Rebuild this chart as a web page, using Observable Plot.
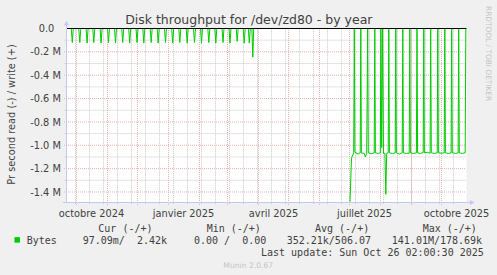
<!DOCTYPE html>
<html><head><meta charset="utf-8">
<script src="https://cdn.jsdelivr.net/npm/d3@7"></script>
<script src="https://cdn.jsdelivr.net/npm/@observablehq/plot@0.6"></script>
<style>html,body{margin:0;padding:0;background:#f0f0f0;} svg{display:block}</style>
</head><body><div id="chart"></div>
<script>
// ---------------- data ----------------
const startDate = "2024-09-21";
const endDate = "2025-10-26";
const title = "Disk throughput for /dev/zd80 - by year";
const yAxisLabel = "Pr second read (-) / write (+)";
const watermark = "RRDTOOL / TOBI OETIKER";
const xTickDates = ["2024-10-16", "2025-01-16", "2025-04-16", "2025-07-16", "2025-10-16"];
const xTickLabels = ["octobre 2024", "janvier 2025", "avril 2025", "juillet 2025", "octobre 2025"];
const yTickValues = [0, -0.2, -0.4, -0.6, -0.8, -1.0, -1.2, -1.4];
const yTickLabels = ["0.0", "-0.2 M", "-0.4 M", "-0.6 M", "-0.8 M", "-1.0 M", "-1.2 M", "-1.4 M"];
const yMinorValues = [-0.1, -0.3, -0.5, -0.7, -0.9, -1.1, -1.3];

// read throughput (M/s, negative = read), day offsets from startDate
const seg1Day = [0,
  4.8, 5.8, 6.8, 12.3, 13.3, 14.3, 19.6, 20.6, 21.6, 26.3, 27.3, 28.3,
  33.6, 34.6, 35.6, 41, 42, 43, 48, 49, 50, 55.2, 56.2, 57.2,
  62.2, 63.2, 64.2, 69.5, 70.5, 71.5, 76.3, 77.3, 78.3, 83.7, 84.7, 85.7,
  90.7, 91.7, 92.7, 98, 99, 100, 105.2, 106.2, 107.2, 112.3, 113.3, 114.3,
  119.7, 120.7, 121.7, 127, 128, 129, 134, 135, 136, 141.3, 142.3, 143.3,
  148.3, 149.3, 150.3, 155.5, 156.5, 157.5, 162.5, 163.5, 164.5, 169.7, 170.7, 171.7,
  176.7, 177.7, 178.7, 181.8, 182.8, 183.8, 185.4, 186.3, 187.2];
const seg1Read = [0,
  0, -0.12, 0, 0, -0.12, 0, 0, -0.125, 0, 0, -0.12, 0,
  0, -0.125, 0, 0, -0.12, 0, 0, -0.125, 0, 0, -0.12, 0,
  0, -0.125, 0, 0, -0.12, 0, 0, -0.125, 0, 0, -0.12, 0,
  0, -0.125, 0, 0, -0.12, 0, 0, -0.125, 0, 0, -0.12, 0,
  0, -0.125, 0, 0, -0.12, 0, 0, -0.125, 0, 0, -0.12, 0,
  0, -0.125, 0, 0, -0.12, 0, 0, -0.125, 0, 0, -0.11, 0,
  0, -0.125, 0, 0, -0.125, 0, 0, -0.245, 0];
const seg2Day = [283.5, 285, 287.2, 287.8, 288.4, 291.5, 293.7, 294.3, 294.9, 297.8, 298.8, 300.2,
  301.2, 301.8, 305, 307.7, 308.3, 308.9, 312, 313.8, 314.4, 315.2, 316.1, 317, 318.4, 319.3,
  320.2, 321.7, 322.3, 322.9, 326, 328.7, 329.3, 329.9, 333, 335.7, 336.3, 336.9, 340, 342.7,
  343.3, 343.9, 347, 349.9, 350.5, 351.1, 354, 356.7, 357.3, 357.9, 361, 363.6, 364.2, 364.8,
  368, 370.7, 371.3, 371.9, 375, 377.7, 378.3, 378.9, 382, 384.6, 385.2, 385.8, 389, 391.6,
  392.2, 392.8, 396, 398.7, 399.3, 400];
const seg2Read = [-1.48, -1.11, -1.065, 0, -1.06, -1.075, -1.065, 0, -1.065, -1.07, -1.1, -1.07,
  0, -1.065, -1.072, -1.065, 0, -1.065, -1.07, -1.065, 0, -1.02, 0, -1.07, -1.07, -1.42,
  -1.07, -1.065, 0, -1.065, -1.07, -1.065, 0, -1.065, -1.075, -1.065, 0, -1.065, -1.07, -1.068,
  0, -1.065, -1.07, -1.065, 0, -1.065, -1.07, -1.062, 0, -1.065, -1.06, -1.068, 0, -1.065,
  -1.07, -1.065, 0, -1.065, -1.068, -1.065, 0, -1.065, -1.07, -1.065, 0, -1.065, -1.07, -1.065,
  0, -1.065, -1.07, -1.065, 0, 0];

const seriesName = "Bytes";
const legendHeaders = ["Cur (-/+)", "Min (-/+)", "Avg (-/+)", "Max (-/+)"];
const legendValues = ["97.09m/  2.42k", "0.00 /  0.00", "352.21k/506.07", "141.01M/178.69k"];
const lastUpdate = "Last update: Sun Oct 26 02:00:30 2025";
const footer = "Munin 2.0.67";

// ---------------- layout ----------------
const DAY = 864e5;
const t0 = new Date(startDate + "T00:00:00Z");
const t1 = new Date(endDate + "T00:00:00Z");
const toDate = d => new Date(t0.getTime() + d * DAY);
const read = [
  ...seg1Day.map((d, i) => ({date: toDate(d), value: seg1Read[i], seg: 1})),
  ...seg2Day.map((d, i) => ({date: toDate(d), value: seg2Read[i], seg: 2}))
];
const xTicks = xTickDates.map((d, i) => ({date: new Date(d + "T00:00:00Z"), label: xTickLabels[i]}));
const yTicks = yTickValues.map((v, i) => ({v, label: yTickLabels[i]}));
const monthLines = d3.utcMonth.range(t0, t1);
const weekLines = d3.utcDay.range(new Date("2024-09-30T00:00:00Z"), t1, 14);

const yMin = -1.49;
const textColor = "#404040";
const axisColor = "#c4c8f4";
const sans = "DejaVu Sans";
const mono = "DejaVu Sans Mono";
const L = 66, B = 202; // frame left / bottom in px

const marks = [
  Plot.frame({fill: "white", stroke: null}),
  Plot.ruleX(weekLines, {y1: -1.505, y2: 0, stroke: "#c8c8c8", strokeDasharray: "1,1"}),
  Plot.ruleY(yMinorValues, {x1: toDate(-1.5), x2: t1, stroke: "#c8c8c8", strokeDasharray: "1,1"}),
  Plot.ruleX(monthLines, {y1: -1.515, y2: 0, stroke: "#eab0b0", strokeDasharray: "1,1"}),
  Plot.ruleY(yTickValues.filter(v => v !== 0), {x1: toDate(-2), x2: t1, stroke: "#eab0b0", strokeDasharray: "1,1"}),
  Plot.line(read, {x: "date", y: "value", z: "seg", stroke: "#00cc00", strokeWidth: 1}),
  Plot.ruleY([0], {x1: t0, x2: t1, stroke: "black"}),
  Plot.ruleX([t0], {y1: yMin, y2: 0.035, stroke: axisColor}),
  Plot.ruleY([yMin], {x1: toDate(-3), x2: toDate(404), stroke: axisColor}),
  Plot.dot([0], {x: () => t0, y: () => 0.04, symbol: "triangle", r: 1.9, fill: axisColor, stroke: null}),
  Plot.dot([0], {x: () => toDate(405), y: () => yMin, symbol: "triangle", r: 1.9, rotate: 90, fill: axisColor, stroke: null}),
  // axis tick labels
  Plot.text(xTicks, {x: "date", text: "label", frameAnchor: "bottom", dy: 14, lineAnchor: "bottom",
    textAnchor: "middle", fontSize: 9.8, fill: textColor}),
  Plot.text(yTicks.filter(d => d.v !== 0), {y: "v", text: "label", frameAnchor: "left", dx: -5.6, dy: 3.6,
    lineAnchor: "bottom", textAnchor: "end", fontSize: 9.8, fill: textColor}),
  Plot.text(yTicks.filter(d => d.v === 0), {y: "v", text: "label", frameAnchor: "left", dx: -12.2, dy: 3.6,
    lineAnchor: "bottom", textAnchor: "end", fontSize: 9.8, fill: textColor}),
  // titles
  Plot.text([title], {frameAnchor: "top-left", dx: 248.3 - L, dy: -4.6, textAnchor: "middle",
    lineAnchor: "bottom", fontSize: 12.5, fill: textColor}),
  Plot.text([yAxisLabel], {frameAnchor: "left", dx: 14.2 - L, dy: -1, rotate: -90, textAnchor: "middle",
    lineAnchor: "bottom", fontSize: 9.8, fill: textColor}),
  Plot.text([watermark], {frameAnchor: "top-left", dx: 485 - L, dy: 5.5 - 28, rotate: 90, textAnchor: "start",
    lineAnchor: "bottom", fontSize: 7.4, fill: "#c4c4c4"}),
  // legend
  Plot.dot([0], {frameAnchor: "bottom-left", dx: 16.7 - L, dy: 239.4 - B, symbol: "square", r: 3.1,
    fill: "#00cc00", stroke: null}),
  Plot.text([seriesName], {frameAnchor: "bottom-left", dx: 26.2 - L, dy: 243.4 - B, textAnchor: "start",
    lineAnchor: "bottom", fontFamily: mono, fontSize: 10, fill: textColor}),
  Plot.text([lastUpdate], {frameAnchor: "bottom-left", dx: 260.5 - L, dy: 255.2 - B, textAnchor: "start",
    lineAnchor: "bottom", fontFamily: mono, fontSize: 10, fill: textColor}),
  Plot.text([footer], {frameAnchor: "bottom-left", dx: 247.7 - L, dy: 267.3 - B, textAnchor: "middle",
    lineAnchor: "bottom", fontSize: 7.6, fill: "#c4c4c4"})
];
const headerX = [97.8, 206.2, 314.5, 422.2];
const valueX = [82.2, 193.5, 286.2, 391.3];
legendHeaders.forEach((h, i) => marks.push(Plot.text([h], {frameAnchor: "bottom-left", dx: headerX[i] - L,
  dy: 231.3 - B, textAnchor: "start", lineAnchor: "bottom", fontFamily: mono, fontSize: 10, fill: textColor})));
legendValues.forEach((v, i) => marks.push(Plot.text([v], {frameAnchor: "bottom-left", dx: valueX[i] - L,
  dy: 243.4 - B, textAnchor: "start", lineAnchor: "bottom", fontFamily: mono, fontSize: 10, fill: textColor})));

const chart = Plot.plot({
  width: 497, height: 275,
  marginTop: 28, marginBottom: 73, marginLeft: 66, marginRight: 31,
  x: {type: "utc", domain: [t0, t1], axis: null},
  y: {domain: [yMin, 0], axis: null},
  style: {background: "#f0f0f0", fontFamily: sans, whiteSpace: "pre", overflow: "visible"},
  marks
});
document.getElementById("chart").appendChild(chart);
</script></body></html>
